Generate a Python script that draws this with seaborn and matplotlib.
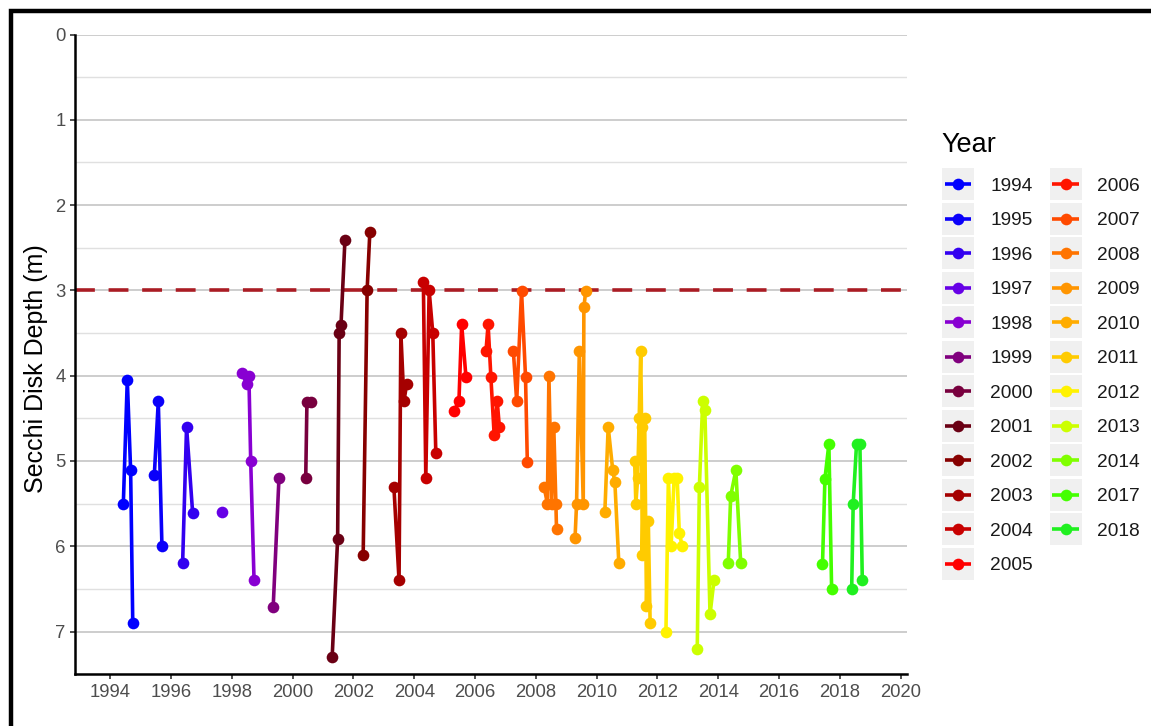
import pandas as pd
import matplotlib
matplotlib.use("Agg")
import matplotlib.pyplot as plt
from matplotlib.patches import Rectangle
from matplotlib.lines import Line2D
import seaborn as sns

# Datos: un punto por muestreo (fecha decimal, profundidad Secchi)
year = (["1994"] * 4 + ["1995"] * 3 + ["1996"] * 3 + ["1997"] * 1 + ["1998"] * 5
        + ["1999"] * 2 + ["2000"] * 3 + ["2001"] * 5 + ["2002"] * 3 + ["2003"] * 5
        + ["2004"] * 5 + ["2005"] * 4 + ["2006"] * 6 + ["2007"] * 5 + ["2008"] * 7
        + ["2009"] * 6 + ["2010"] * 5 + ["2011"] * 11 + ["2012"] * 7 + ["2013"] * 6
        + ["2014"] * 4 + ["2017"] * 4 + ["2018"] * 5)

date = [1994.43, 1994.56, 1994.67, 1994.74,
        1995.45, 1995.58, 1995.70,
        1996.38, 1996.51, 1996.71,
        1997.66,
        1998.32, 1998.50, 1998.56, 1998.62, 1998.73,
        1999.36, 1999.55,
        2000.43, 2000.47, 2000.59,
        2001.30, 2001.48, 2001.53, 2001.59, 2001.72,
        2002.32, 2002.45, 2002.54,
        2003.33, 2003.50, 2003.56, 2003.66, 2003.75,
        2004.30, 2004.38, 2004.49, 2004.61, 2004.71,
        2005.31, 2005.47, 2005.56, 2005.70,
        2006.36, 2006.43, 2006.52, 2006.63, 2006.73, 2006.80,
        2007.26, 2007.37, 2007.53, 2007.66, 2007.72,
        2008.27, 2008.38, 2008.43, 2008.52, 2008.59, 2008.66, 2008.68,
        2009.29, 2009.34, 2009.43, 2009.56, 2009.58, 2009.64,
        2010.27, 2010.38, 2010.53, 2010.60, 2010.73,
        2011.25, 2011.29, 2011.35, 2011.40, 2011.45, 2011.48, 2011.50, 2011.58, 2011.64, 2011.70, 2011.76,
        2012.28, 2012.36, 2012.45, 2012.55, 2012.65, 2012.72, 2012.82,
        2013.31, 2013.38, 2013.49, 2013.56, 2013.73, 2013.86,
        2014.33, 2014.41, 2014.58, 2014.74,
        2017.43, 2017.51, 2017.64, 2017.73,
        2018.39, 2018.44, 2018.55, 2018.66, 2018.74]

depth = [5.50, 4.05, 5.11, 6.90,
         5.16, 4.30, 6.00,
         6.20, 4.60, 5.61,
         5.60,
         3.97, 4.10, 4.00, 5.00, 6.40,
         6.71, 5.20,
         5.20, 4.31, 4.31,
         7.30, 5.91, 3.50, 3.41, 2.41,
         6.10, 3.00, 2.31,
         5.30, 6.40, 3.50, 4.30, 4.10,
         2.90, 5.20, 3.00, 3.50, 4.91,
         4.41, 4.30, 3.40, 4.01,
         3.71, 3.40, 4.01, 4.70, 4.30, 4.60,
         3.71, 4.30, 3.01, 4.01, 5.01,
         5.30, 5.50, 4.00, 5.50, 4.60, 5.50, 5.80,
         5.90, 5.50, 3.71, 5.50, 3.20, 3.01,
         5.60, 4.60, 5.11, 5.25, 6.20,
         5.00, 5.50, 5.20, 4.50, 3.71, 4.60, 6.10, 4.50, 6.70, 5.70, 6.90,
         7.00, 5.20, 6.00, 5.20, 5.20, 5.85, 6.00,
         7.20, 5.30, 4.30, 4.40, 6.80, 6.40,
         6.20, 5.41, 5.11, 6.20,
         6.21, 5.21, 4.80, 6.50,
         6.50, 5.50, 4.80, 4.80, 6.40]

years = ["1994", "1995", "1996", "1997", "1998", "1999", "2000", "2001", "2002",
         "2003", "2004", "2005", "2006", "2007", "2008", "2009", "2010", "2011",
         "2012", "2013", "2014", "2017", "2018"]
colores = ["#0000FF", "#0A00FA", "#3300F0", "#6600E6", "#8800D2", "#80007E",
           "#78003E", "#6A0014", "#870000", "#A50000", "#C80000", "#FF0000",
           "#FF1500", "#FF4A00", "#FF7400", "#FF9500", "#FFAC00", "#FFCB00",
           "#FFF200", "#CCFF00", "#80FF00", "#44FF00", "#20F020"]
x_ticks = list(range(1994, 2021, 2))
y_ticks = list(range(0, 8))
umbral = 3.0

df = pd.DataFrame({"year": year, "date": date, "depth": depth})
paleta = dict(zip(years, colores))

W, H = 1151, 726
fig = plt.figure(figsize=(W / 100, H / 100), dpi=100)
plt.rcParams["font.family"] = ["Liberation Sans", "DejaVu Sans"]


def px(x, y):
    # pixeles de la imagen -> fraccion de figura
    return x / W, 1 - y / H


ax = fig.add_axes([75 / W, 1 - 674.2 / H, (907 - 75) / W, (674.2 - 34.5) / H])

# lineas de cuadricula horizontales
for v in [i * 0.5 for i in range(0, 16)]:
    mayor = float(v).is_integer()
    ax.axhline(v, color="#C9C9C9" if mayor else "#E0E0E0",
               lw=1.3 if mayor else 1.0, zorder=0)

sns.lineplot(data=df, x="date", y="depth", hue="year", hue_order=years,
             palette=paleta, marker="o", markersize=8.4, markeredgewidth=0,
             linewidth=2.6, estimator=None, sort=True, legend=False, ax=ax, zorder=3)

ax.axhline(umbral, color="#AA1C24", lw=2.6, ls=(0, (5.5, 3.8)), zorder=2)

ax.set_xlim(1992.84, 2020.21)
ax.set_ylim(7.5, 0)
ax.set_xticks(x_ticks)
ax.set_xticklabels([str(t) for t in x_ticks])
ax.set_yticks(y_ticks)
ax.tick_params(axis="both", labelsize=13.3, labelcolor="#4D4D4D", color="#222222",
               length=3.8, width=1.1, pad=3)
for s in ["top", "right"]:
    ax.spines[s].set_visible(False)
for s in ["left", "bottom"]:
    ax.spines[s].set_linewidth(1.8)
    ax.spines[s].set_color("black")
ax.set_xlabel("")
ax.set_ylabel("Secchi Disk Depth (m)", fontsize=18, color="black")
ax.yaxis.set_label_coords(-0.033, 0.477)

# leyenda manual en dos columnas con fondo gris en cada clave
fig.text(*px(941, 152), "Year", fontsize=19.5, color="black", ha="left", va="baseline")
for i, (yr, col) in enumerate(zip(years, colores)):
    colx = 0 if i < 12 else 1
    fila = i if i < 12 else i - 12
    kx = 942 + colx * 107.5
    cy = 184.3 + fila * 34.5
    x0, y0 = px(kx, cy + 16)
    fig.add_artist(Rectangle((x0, y0), 32 / W, 32 / H, transform=fig.transFigure,
                             facecolor="#F0F0F0", edgecolor="none"))
    xa, ya = px(kx + 2.5, cy)
    xb, _ = px(kx + 29.5, cy)
    fig.add_artist(Line2D([xa, xb], [ya, ya], transform=fig.transFigure, color=col,
                          lw=2.6, solid_capstyle="butt"))
    xm, _ = px(kx + 16, cy)
    fig.add_artist(Line2D([xm], [ya], transform=fig.transFigure, color=col,
                          marker="o", markersize=8.4, markeredgewidth=0))
    fig.text(*px(kx + 48, cy), yr, fontsize=13.8, color="#1A1A1A",
             ha="left", va="center_baseline")

# marco negro exterior de la imagen
fig.add_artist(Rectangle(px(10.5, 760), 1.2, (760 - 10.5) / H, transform=fig.transFigure,
                         facecolor="none", edgecolor="black", lw=3.2))

fig.savefig("out.png", dpi=100)
